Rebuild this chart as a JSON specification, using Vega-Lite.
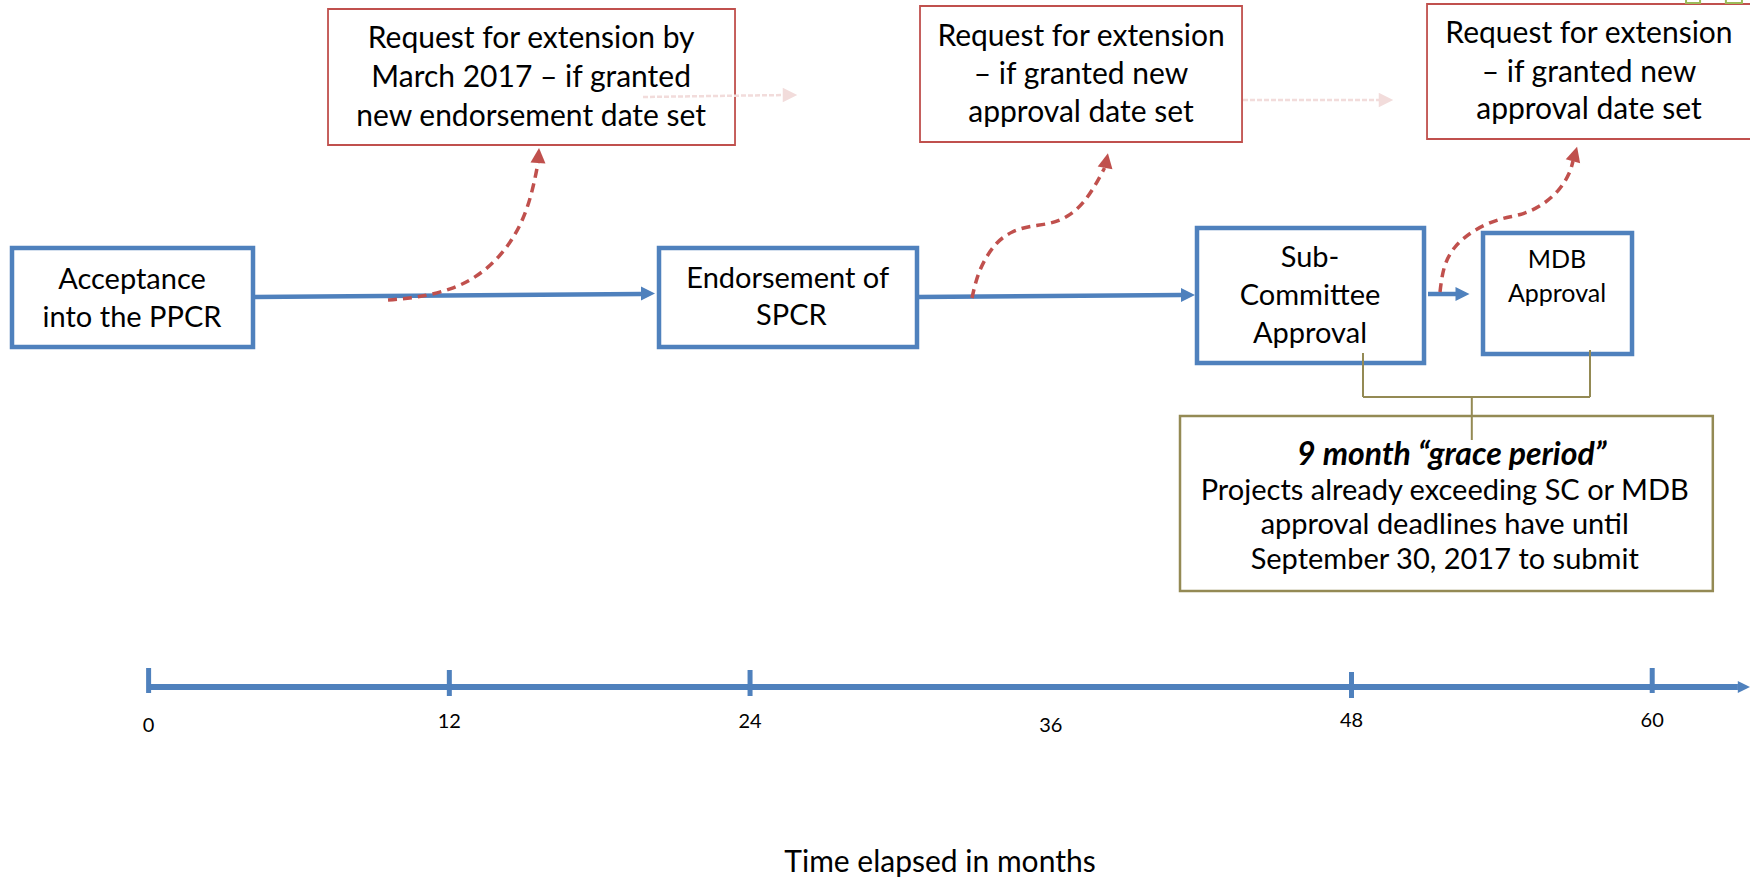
{
  "$schema": "https://vega.github.io/schema/vega-lite/v6.json",
  "width": 1750,
  "height": 877,
  "autosize": {"type": "none"},
  "padding": 0,
  "background": "white",
  "config": {"view": {"stroke": null}, "text": {"font": "Lato"}},
  "datasets": {
    "blueBoxes": [
      {"m": -5.451, "m2": 4.166, "v": 248, "v2": 347},
      {"m": 20.367, "m2": 30.662, "v": 248, "v2": 347},
      {"m": 41.835, "m2": 50.894, "v": 228, "v2": 363},
      {"m": 53.248, "m2": 59.194, "v": 233, "v2": 354}
    ],
    "redBoxes": [
      {"m": 7.159, "m2": 23.4, "v": 9, "v2": 145},
      {"m": 30.782, "m2": 43.632, "v": 6, "v2": 142},
      {"m": 51.014, "m2": 64.5, "v": 4, "v2": 139}
    ],
    "graceBox": [{"m": 41.157, "m2": 62.418, "v": 416, "v2": 591}],
    "greenBits": [
      {"m": 61.35, "m2": 61.91, "v": -8, "v2": 3},
      {"m": 62.94, "m2": 63.58, "v": -8, "v2": 3}
    ],
    "fadedLinks": [
      {"m": 19.728, "m2": 25.395, "v": 97, "v2": 95},
      {"m": 43.671, "m2": 49.138, "v": 100, "v2": 100}
    ],
    "fadedHeads": [{"m": 25.595, "v": 95}, {"m": 49.377, "v": 100}],
    "blueLinks": [
      {"m": 4.206, "m2": 19.65, "v": 297, "v2": 294},
      {"m": 30.662, "m2": 41.197, "v": 297, "v2": 295},
      {"m": 51.053, "m2": 52.17, "v": 294, "v2": 294}
    ],
    "blueHeads": [{"m": 19.928, "v": 293.5}, {"m": 41.477, "v": 295}, {"m": 52.43, "v": 294}],
    "timeline": [{"m": 0, "m2": 63.42, "v": 687, "v2": 687}],
    "timelineHead": [{"m": 63.66, "v": 687}],
    "ticks": [
      {"m": 0, "v": 668, "v2": 693},
      {"m": 12, "v": 670, "v2": 696},
      {"m": 24, "v": 670, "v2": 696},
      {"m": 48, "v": 672, "v2": 698},
      {"m": 60, "v": 668, "v2": 693}
    ],
    "curves": [
      {"id": "a", "k": 0, "m": 9.553, "v": 300},
      {"id": "a", "k": 1, "m": 10.671, "v": 298},
      {"id": "a", "k": 2, "m": 12.227, "v": 289},
      {"id": "a", "k": 3, "m": 13.345, "v": 273},
      {"id": "a", "k": 4, "m": 14.302, "v": 249},
      {"id": "a", "k": 5, "m": 14.98, "v": 219},
      {"id": "a", "k": 6, "m": 15.339, "v": 189},
      {"id": "a", "k": 7, "m": 15.539, "v": 163},
      {"id": "b", "k": 0, "m": 32.857, "v": 298},
      {"id": "b", "k": 1, "m": 33.017, "v": 280},
      {"id": "b", "k": 2, "m": 33.296, "v": 262},
      {"id": "b", "k": 3, "m": 33.815, "v": 242},
      {"id": "b", "k": 4, "m": 34.453, "v": 231},
      {"id": "b", "k": 5, "m": 35.172, "v": 226},
      {"id": "b", "k": 6, "m": 35.97, "v": 224},
      {"id": "b", "k": 7, "m": 36.688, "v": 217},
      {"id": "b", "k": 8, "m": 37.287, "v": 204},
      {"id": "b", "k": 9, "m": 37.766, "v": 186},
      {"id": "b", "k": 10, "m": 38.145, "v": 168},
      {"id": "c", "k": 0, "m": 51.532, "v": 292},
      {"id": "c", "k": 1, "m": 51.652, "v": 267},
      {"id": "c", "k": 2, "m": 52.051, "v": 247},
      {"id": "c", "k": 3, "m": 52.849, "v": 230},
      {"id": "c", "k": 4, "m": 53.927, "v": 218},
      {"id": "c", "k": 5, "m": 54.844, "v": 215},
      {"id": "c", "k": 6, "m": 55.642, "v": 205},
      {"id": "c", "k": 7, "m": 56.321, "v": 190},
      {"id": "c", "k": 8, "m": 56.72, "v": 173},
      {"id": "c", "k": 9, "m": 56.839, "v": 161}
    ],
    "headA": [{"m": 15.559, "v": 155.5}],
    "headB": [{"m": 38.224, "v": 160.5}],
    "headC": [{"m": 56.919, "v": 154}],
    "olive": [
      {"m": 48.46, "m2": 48.46, "v": 353, "v2": 397},
      {"m": 48.46, "m2": 57.518, "v": 397, "v2": 397},
      {"m": 57.518, "m2": 57.518, "v": 350, "v2": 397},
      {"m": 52.801, "m2": 52.801, "v": 397, "v2": 440}
    ],
    "topText": [
      {"m": 15.264, "v": 48, "t": "Request for extension by"},
      {"m": 15.264, "v": 87, "t": "March 2017 – if granted"},
      {"m": 15.264, "v": 126, "t": "new endorsement date set"},
      {"m": 37.207, "v": 46, "t": "Request for extension"},
      {"m": 37.207, "v": 84, "t": "– if granted new"},
      {"m": 37.207, "v": 122, "t": "approval date set"},
      {"m": 57.477, "v": 43, "t": "Request for extension"},
      {"m": 57.477, "v": 82, "t": "– if granted new"},
      {"m": 57.477, "v": 119, "t": "approval date set"}
    ],
    "blueText": [
      {"m": -0.662, "v": 289, "t": "Acceptance"},
      {"m": -0.662, "v": 327, "t": "into the PPCR"},
      {"m": 25.503, "v": 288, "t": "Endorsement of"},
      {"m": 25.65, "v": 325, "t": "SPCR"},
      {"m": 46.345, "v": 267, "t": "Sub-"},
      {"m": 46.345, "v": 305, "t": "Committee"},
      {"m": 46.345, "v": 343, "t": "Approval"}
    ],
    "mdbText": [
      {"m": 56.201, "v": 268, "t": "MDB"},
      {"m": 56.201, "v": 302, "t": "Approval"}
    ],
    "graceTitle": [{"m": 52.0, "v": 465, "t": "9 month “grace period”"}],
    "graceText": [
      {"m": 51.72, "v": 500, "t": "Projects already exceeding SC or MDB"},
      {"m": 51.72, "v": 534, "t": "approval deadlines have until"},
      {"m": 51.72, "v": 569, "t": "September 30, 2017 to submit"}
    ],
    "tickText": [
      {"m": 0, "v": 732, "t": "0"},
      {"m": 12, "v": 728, "t": "12"},
      {"m": 24, "v": 728, "t": "24"},
      {"m": 36, "v": 732, "t": "36"},
      {"m": 48, "v": 727, "t": "48"},
      {"m": 60, "v": 727, "t": "60"}
    ],
    "axisTitle": [{"m": 31.58, "v": 872, "t": "Time elapsed in months"}]
  },
  "encoding": {
    "x": {"field": "m", "type": "quantitative", "scale": {"domain": [-5.93, 63.902], "nice": false, "zero": false}, "axis": null},
    "y": {"field": "v", "type": "quantitative", "scale": {"domain": [0, 877], "reverse": true, "nice": false, "zero": false}, "axis": null}
  },
  "layer": [
    {"data": {"name": "blueBoxes"}, "mark": {"type": "rect", "fill": "transparent", "stroke": "#4F81BD", "strokeWidth": 4.5}, "encoding": {"x2": {"field": "m2"}, "y2": {"field": "v2"}}},
    {"data": {"name": "redBoxes"}, "mark": {"type": "rect", "fill": "transparent", "stroke": "#C0504D", "strokeWidth": 1.8}, "encoding": {"x2": {"field": "m2"}, "y2": {"field": "v2"}}},
    {"data": {"name": "graceBox"}, "mark": {"type": "rect", "fill": "transparent", "stroke": "#948A54", "strokeWidth": 2.5}, "encoding": {"x2": {"field": "m2"}, "y2": {"field": "v2"}}},
    {"data": {"name": "greenBits"}, "mark": {"type": "rect", "fill": "transparent", "stroke": "#9BBB59", "strokeWidth": 2}, "encoding": {"x2": {"field": "m2"}, "y2": {"field": "v2"}}},
    {"data": {"name": "fadedLinks"}, "mark": {"type": "rule", "stroke": "#F2DCDB", "strokeWidth": 2.5, "strokeDash": [5, 2]}, "encoding": {"x2": {"field": "m2"}, "y2": {"field": "v2"}}},
    {"data": {"name": "fadedHeads"}, "mark": {"type": "point", "shape": "M-1,-1L1,0L-1,1Z", "filled": true, "size": 210, "color": "#F2DCDB", "opacity": 1, "strokeWidth": 0}, "encoding": {}},
    {"data": {"name": "blueLinks"}, "mark": {"type": "rule", "stroke": "#4F81BD", "strokeWidth": 4.5}, "encoding": {"x2": {"field": "m2"}, "y2": {"field": "v2"}}},
    {"data": {"name": "blueHeads"}, "mark": {"type": "point", "shape": "M-1,-1L1,0L-1,1Z", "filled": true, "size": 196, "color": "#4F81BD", "opacity": 1, "strokeWidth": 0}, "encoding": {}},
    {"data": {"name": "timeline"}, "mark": {"type": "rule", "stroke": "#4F81BD", "strokeWidth": 6}, "encoding": {"x2": {"field": "m2"}, "y2": {"field": "v2"}}},
    {"data": {"name": "ticks"}, "mark": {"type": "rule", "stroke": "#4F81BD", "strokeWidth": 5}, "encoding": {"y2": {"field": "v2"}}},
    {"data": {"name": "timelineHead"}, "mark": {"type": "point", "shape": "M-1,-1L1,0L-1,1Z", "filled": true, "size": 150, "color": "#4F81BD", "opacity": 1, "strokeWidth": 0}, "encoding": {}},
    {"data": {"name": "curves"}, "mark": {"type": "line", "interpolate": "basis", "stroke": "#C0504D", "strokeWidth": 3.5, "strokeDash": [9, 6]}, "encoding": {"detail": {"field": "id"}, "order": {"field": "k", "type": "quantitative"}}},
    {"data": {"name": "headA"}, "mark": {"type": "point", "shape": "M0,-1L1,1L-1,1Z", "filled": true, "size": 225, "angle": 4, "color": "#C0504D", "opacity": 1, "strokeWidth": 0}, "encoding": {}},
    {"data": {"name": "headB"}, "mark": {"type": "point", "shape": "M0,-1L1,1L-1,1Z", "filled": true, "size": 225, "angle": 11, "color": "#C0504D", "opacity": 1, "strokeWidth": 0}, "encoding": {}},
    {"data": {"name": "headC"}, "mark": {"type": "point", "shape": "M0,-1L1,1L-1,1Z", "filled": true, "size": 225, "angle": 16, "color": "#C0504D", "opacity": 1, "strokeWidth": 0}, "encoding": {}},
    {"data": {"name": "olive"}, "mark": {"type": "rule", "stroke": "#948A54", "strokeWidth": 2}, "encoding": {"x2": {"field": "m2"}, "y2": {"field": "v2"}}},
    {"data": {"name": "topText"}, "mark": {"type": "text", "font": "Lato", "fontSize": 30, "align": "center", "baseline": "alphabetic", "color": "#000000"}, "encoding": {"text": {"field": "t"}}},
    {"data": {"name": "blueText"}, "mark": {"type": "text", "font": "Lato", "fontSize": 29, "align": "center", "baseline": "alphabetic", "color": "#000000"}, "encoding": {"text": {"field": "t"}}},
    {"data": {"name": "mdbText"}, "mark": {"type": "text", "font": "Lato", "fontSize": 25, "align": "center", "baseline": "alphabetic", "color": "#000000"}, "encoding": {"text": {"field": "t"}}},
    {"data": {"name": "graceTitle"}, "mark": {"type": "text", "font": "Lato", "fontSize": 32, "fontWeight": "bold", "fontStyle": "italic", "align": "center", "baseline": "alphabetic", "color": "#000000"}, "encoding": {"text": {"field": "t"}}},
    {"data": {"name": "graceText"}, "mark": {"type": "text", "font": "Lato", "fontSize": 29, "align": "center", "baseline": "alphabetic", "color": "#000000"}, "encoding": {"text": {"field": "t"}}},
    {"data": {"name": "tickText"}, "mark": {"type": "text", "font": "Lato", "fontSize": 20, "align": "center", "baseline": "alphabetic", "color": "#000000"}, "encoding": {"text": {"field": "t"}}},
    {"data": {"name": "axisTitle"}, "mark": {"type": "text", "font": "Lato", "fontSize": 30, "align": "center", "baseline": "alphabetic", "color": "#000000"}, "encoding": {"text": {"field": "t"}}}
  ]
}
